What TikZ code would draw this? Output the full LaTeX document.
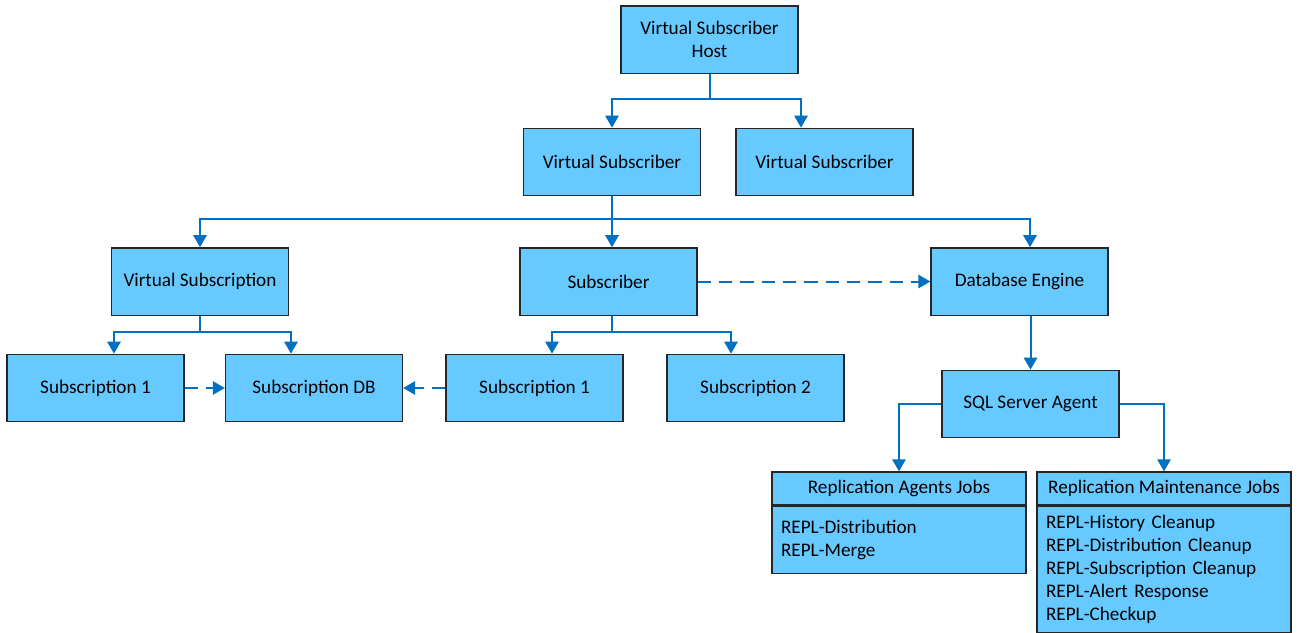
\documentclass[tikz,border=0pt]{standalone}
\usepackage{fontspec}
\setmainfont{Carlito}
\usetikzlibrary{positioning,calc,arrows.meta}
\definecolor{boxblue}{RGB}{102,201,255}
\definecolor{linkblue}{RGB}{0,112,192}
\tikzset{
    box/.style={draw=black!85,fill=boxblue,line width=1pt,minimum width=132.75pt,minimum height=50.5pt,inner sep=0pt,align=center},
    link/.style={draw=linkblue,line width=1.5pt,-{Triangle[width=10pt,length=9pt]}},
    dlink/.style={link,dash pattern=on 10pt off 6pt},
    jobhead/.style={draw=black!85,fill=boxblue,line width=1pt,minimum width=190.5pt,minimum height=24.75pt,inner sep=0pt},
    jobbody/.style={draw=black!85,fill=boxblue,line width=1pt,align=left,text width=177pt,inner xsep=6.75pt,inner ysep=0pt}
}
\begin{document}
\begin{tikzpicture}[x=0.75pt,y=-0.75pt,font=\fontsize{14.4}{17.25}\selectfont]
    \useasboundingbox (0,0) rectangle (1298,632);
    %
    \node[box] (host) at (709.5,39.5) {Virtual Subscriber\\Host};
    \node[box] (vsa) at (612,162) {Virtual Subscriber};
    \node[box] (vsb) at (824.5,162) {Virtual Subscriber};
    %
    \node[box] (vsub) at (200,281.5) {Virtual Subscription};
    \node[box] (subr) at (608.5,281.5) {Subscriber};
    \node[box] (dbe) at (1019.5,281.5) {Database Engine};
    %
    \node[box] (suba) at (95.5,388) {Subscription 1};
    \node[box] (subdb) at (314,388) {Subscription DB};
    \node[box] (subb) at (534.5,388) {Subscription 1};
    \node[box] (subc) at (755.5,388) {Subscription 2};
    \node[box] (agent) at (1030.5,404) {SQL Server Agent};
    %
    \node[jobhead] (agh) at (899,488.5) {Replication Agents Jobs};
    \node[jobbody,minimum height=50.25pt,below=0pt of agh] (agb) {REPL-Distribution\\REPL-Merge};
    \node[jobhead] (mth) at (1164,488.5) {Replication Maintenance Jobs};
    \node[jobbody,minimum height=94.5pt,below=0pt of mth] (mtb) {REPL-History Cleanup\\REPL-Distribution Cleanup\\REPL-Subscription Cleanup\\REPL-Alert Response\\REPL-Checkup};
    %
    \draw[link] (host.south) -- ++(0,25) -| (vsa.north);
    \draw[link] (host.south) -- ++(0,25) -| ($(vsb.north)+(-23.5,0)$);
    \draw[link] (vsa.south) -- ++(0,23) -| (vsub.north);
    \draw[link] (vsa.south) -- (vsa.south |- subr.north);
    \draw[link] (vsa.south) -- ++(0,23) -| ($(dbe.north)+(10.5,0)$);
    %
    \draw[link] (vsub.south) -- ++(0,16) -| ($(suba.north)+(18.5,0)$);
    \draw[link] (vsub.south) -- ++(0,16) -| ($(subdb.north)+(-23,0)$);
    \draw[link] (subr.south -| vsa.south) -- ++(0,16) -| ($(subb.north)+(17.5,0)$);
    \draw[link] (subr.south -| vsa.south) -- ++(0,16) -| ($(subc.north)+(-24.5,0)$);
    %
    \draw[dlink] (subr) -- (dbe);
    \draw[dlink] (suba) -- (subdb);
    \draw[dlink] (subb) -- (subdb);
    %
    \draw[link] (dbe.south -| agent.north) -- (agent.north);
    \draw[link] (agent.west) -| (agh.north);
    \draw[link] (agent.east) -| (mth.north);
\end{tikzpicture}
\end{document}
